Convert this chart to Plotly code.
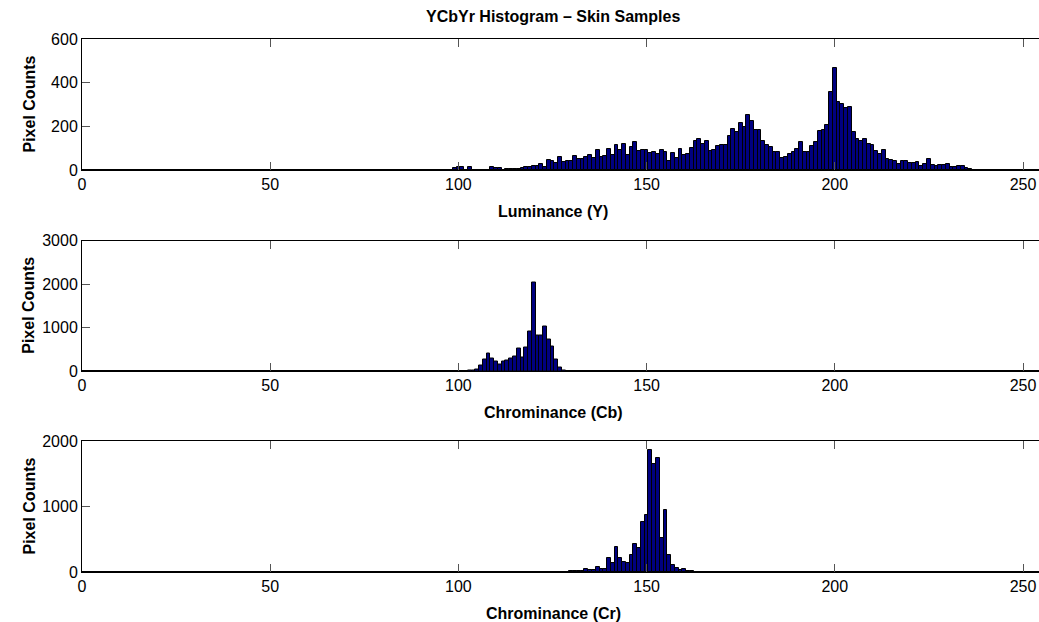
import plotly.graph_objects as go
from plotly.subplots import make_subplots

# ---------------- data ----------------
y_start = 96
y_counts = [2, 0, 0, 8, 14, 14, 0, 14, 0, 0, 0, 0, 0, 12, 9, 9, 0, 4, 4, 5,
            5, 9, 15, 12, 17, 17, 27, 15, 46, 43, 31, 60, 37, 43, 41, 63, 50, 50, 61, 67,
            53, 92, 58, 64, 98, 67, 113, 91, 119, 69, 104, 127, 89, 92, 92, 76, 81, 73, 92, 82,
            43, 76, 56, 96, 69, 73, 99, 133, 142, 119, 134, 89, 92, 110, 113, 115, 156, 186, 174, 214,
            195, 250, 224, 183, 183, 133, 113, 104, 82, 81, 53, 61, 73, 84, 98, 128, 81, 81, 110, 128,
            180, 183, 206, 359, 466, 311, 302, 284, 290, 174, 142, 134, 142, 121, 116, 89, 73, 92, 49, 47,
            40, 29, 41, 43, 32, 32, 35, 18, 29, 49, 24, 18, 21, 21, 27, 15, 14, 18, 18, 9, 4]

cb_start = 103
cb_counts = [10, 15, 30, 116, 255, 409, 278, 224, 139, 224, 247, 278, 324, 510, 309, 540,
             903, 2039, 826, 826, 1019, 734, 571, 255, 70, 12]

cr_start = 130
cr_counts = [15, 15, 12, 20, 41, 26, 36, 72, 41, 41, 209, 138, 378, 215, 153, 138, 255,
             424, 368, 761, 863, 1864, 1650, 1742, 526, 945, 255, 112, 66, 36, 50, 15, 20]

panels = [
    (y_start, y_counts, "Luminance (Y)", [0, 600], [0, 200, 400, 600]),
    (cb_start, cb_counts, "Chrominance (Cb)", [0, 3000], [0, 1000, 2000, 3000]),
    (cr_start, cr_counts, "Chrominance (Cr)", [0, 2000], [0, 1000, 2000]),
]
x_ticks = [0, 50, 100, 150, 200, 250]
title_text = "YCbYr Histogram \u2013 Skin Samples"
ylabel = "Pixel Counts"

# ---------------- figure ----------------
W, H = 1039, 622
ml, mr, mt, mb = 82, 0, 39, 50
ph = H - mt - mb
# plot-area pixel rows (top, bottom) for each panel
rows_px = [(39, 170), (240.5, 371), (441, 572)]
domains = [[(H - mb - b) / ph, (H - mb - t) / ph] for t, b in rows_px]

fig = make_subplots(rows=3, cols=1)
font_family = "Liberation Sans, Arial, Helvetica, sans-serif"
annotations = []
for i, (start, counts, xlab, yr, yt) in enumerate(panels):
    xs = list(range(start, start + len(counts)))
    fig.add_trace(go.Bar(x=xs, y=counts, width=1,
                         marker=dict(color="#000080", line=dict(color="black", width=1)),
                         showlegend=False), row=i + 1, col=1)
    sfx = "" if i == 0 else str(i + 1)
    fig.layout["xaxis" + sfx].update(
        domain=[0, 1], range=[0, (W - ml - mr) / 3.764], tickvals=x_ticks,
        ticks="inside", ticklen=8, tickcolor="#555", showline=True, linecolor="black",
        linewidth=1, mirror="ticks", showgrid=False, zeroline=False,
        tickfont=dict(size=16, color="black", family=font_family))
    fig.layout["yaxis" + sfx].update(
        domain=domains[i], range=yr, tickvals=yt, ticks="inside", ticklen=8,
        tickcolor="#555", showline=True, linecolor="black", linewidth=1,
        showgrid=False, zeroline=True, zerolinecolor="black", zerolinewidth=2,
        tickfont=dict(size=16, color="black", family=font_family))
    t, b = rows_px[i]
    annotations.append(dict(text="<b>%s</b>" % xlab, xref="paper", yref="paper",
                            x=(553 - ml) / (W - ml - mr), y=(H - mb - (b + 41)) / ph,
                            xanchor="center", yanchor="middle", showarrow=False,
                            font=dict(size=16, color="black", family=font_family)))
    annotations.append(dict(text="<b>%s</b>" % ylabel, xref="paper", yref="paper",
                            x=(29 - ml) / (W - ml - mr), y=(H - mb - (t + b) / 2) / ph,
                            xanchor="center", yanchor="middle", textangle=-90, showarrow=False,
                            font=dict(size=16, color="black", family=font_family)))

annotations.append(dict(text="<b>%s</b>" % title_text, xref="paper", yref="paper",
                        x=(553 - ml) / (W - ml - mr), y=(H - mb - 17) / ph,
                        xanchor="center", yanchor="middle", showarrow=False,
                        font=dict(size=16, color="black", family=font_family)))

fig.update_layout(width=W, height=H, margin=dict(l=ml, r=mr, t=mt, b=mb),
                  paper_bgcolor="white", plot_bgcolor="white", bargap=0,
                  annotations=annotations, font=dict(family=font_family))
fig.write_html("out.html")
